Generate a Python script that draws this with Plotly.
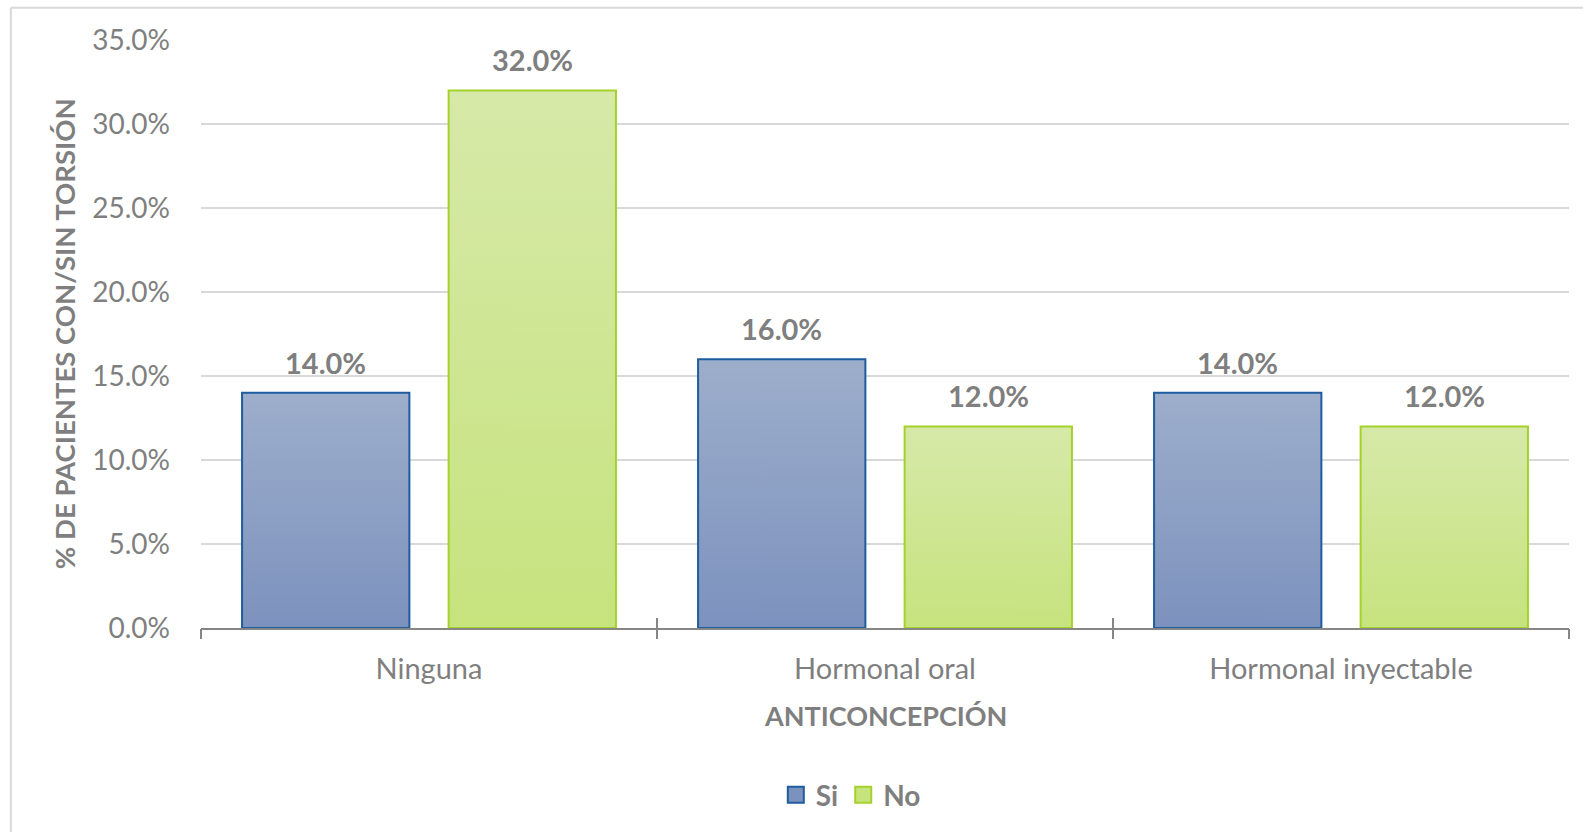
import plotly.graph_objects as go

# Data
categories = ["Ninguna", "Hormonal oral", "Hormonal inyectable"]
series_names = ["Si", "No"]
si_values = [0.14, 0.16, 0.14]
no_values = [0.32, 0.12, 0.12]
y_ticks = [0.0, 0.05, 0.10, 0.15, 0.20, 0.25, 0.30, 0.35]

# Styling
FONT = "Lato"
GRAY_TEXT = "#7F7F7F"
AXIS_GRAY = "#868686"
GRID = "#D9D9D9"
styles = {
    "Si": {"line": "#1F5C9E", "top": "#9DAECB", "bottom": "#7C92BE"},
    "No": {"line": "#A5D12C", "top": "#D6E9A8", "bottom": "#C6E37E"},
}
BARGAP = 0.094
BARGROUPGAP = 0.19

series_values = {"Si": si_values, "No": no_values}
fig = go.Figure()

# Gradient fills for each bar, on a linear x axis aligned with the category axis
n_series = len(series_names)
slot = (1 - BARGAP) / n_series
bar_w = slot * (1 - BARGROUPGAP)
value_labels = []
for j, name in enumerate(series_names):
    st = styles[name]
    for i, v in enumerate(series_values[name]):
        cx = i + (j - (n_series - 1) / 2) * slot
        x0, x1 = cx - bar_w / 2, cx + bar_w / 2
        fig.add_trace(go.Scatter(
            x=[x0, x1, x1, x0, x0], y=[0, 0, v, v, 0],
            mode="lines", line=dict(width=0), fill="toself",
            fillgradient=dict(type="vertical", start=0, stop=v,
                              colorscale=[[0, st["bottom"]], [1, st["top"]]]),
            hoverinfo="skip", showlegend=False, xaxis="x", yaxis="y",
        ))
        # value label above the bar
        value_labels.append(dict(
            text=f"{v:.1%}", xref="x", yref="y", x=cx, y=v,
            xanchor="center", yanchor="bottom", yshift=11, showarrow=False,
            font=dict(family=FONT, size=29, color=GRAY_TEXT, weight="bold"),
        ))

# Bar outlines on the category axis
for name in series_names:
    st = styles[name]
    fig.add_trace(go.Bar(
        x=categories, y=series_values[name], name=name,
        marker=dict(color="rgba(0,0,0,0)", line=dict(color=st["line"], width=2)),
        showlegend=False, hoverinfo="skip", xaxis="x2", yaxis="y",
    ))

# Legend entries
for name in series_names:
    st = styles[name]
    fig.add_trace(go.Scatter(
        x=[None], y=[None], mode="markers", name=name,
        marker=dict(symbol="square", size=16,
                    color=st["bottom"], line=dict(color=st["line"], width=2)),
        xaxis="x", yaxis="y",
    ))

boundaries = [i - 0.5 for i in range(len(categories) + 1)]

fig.update_layout(
    width=1583, height=832,
    margin=dict(l=201, r=14, t=40, b=204),
    paper_bgcolor="white", plot_bgcolor="white",
    barmode="group", bargap=BARGAP, bargroupgap=BARGROUPGAP,
    font=dict(family=FONT, color=GRAY_TEXT),
    xaxis=dict(
        type="linear", range=[-0.5, len(categories) - 0.5],
        showgrid=False, zeroline=False,
        showline=True, linecolor=AXIS_GRAY, linewidth=2,
        tickvals=boundaries, ticks="inside", ticklen=10, tickwidth=2,
        tickcolor=AXIS_GRAY, showticklabels=False,
    ),
    xaxis2=dict(
        type="category", overlaying="x", anchor="y", side="bottom",
        range=[-0.5, len(categories) - 0.5],
        showgrid=False, zeroline=False, showline=False,
        ticks="outside", tickson="boundaries", ticklen=10, tickwidth=2,
        tickcolor=AXIS_GRAY,
        tickfont=dict(family=FONT, size=29, color=GRAY_TEXT),
        ticklabelstandoff=21,
    ),
    yaxis=dict(
        range=[0, 0.35], tickvals=y_ticks, tickformat=".1%",
        showgrid=True, gridcolor=GRID, gridwidth=1.5,
        zeroline=False, showline=False, ticks="",
        tickfont=dict(family=FONT, size=28, color=GRAY_TEXT),
        ticklabelstandoff=30,
    ),
    legend=dict(
        orientation="h", x=0.475, y=-0.284, xanchor="center", yanchor="middle",
        font=dict(family=FONT, size=28, color=GRAY_TEXT, weight="bold"),
        bgcolor="rgba(0,0,0,0)",
    ),
    annotations=value_labels + [
        dict(text="ANTICONCEPCIÓN", xref="paper", yref="paper",
             x=0.5, y=-0.149, xanchor="center", yanchor="middle",
             showarrow=False,
             font=dict(family=FONT, size=27, color=GRAY_TEXT, weight="bold")),
        dict(text="% DE PACIENTES CON/SIN TORSIÓN", xref="paper", yref="paper",
             x=-0.1, y=0.5, xanchor="center", yanchor="middle", textangle=-90,
             showarrow=False,
             font=dict(family=FONT, size=27.5, color=GRAY_TEXT, weight="bold")),
    ],
    shapes=[
        # chart-area frame (top and left edges)
        dict(type="line", xref="paper", yref="paper",
             x0=-0.139, x1=1.02, y0=1.055, y1=1.055,
             line=dict(color=GRID, width=2)),
        dict(type="line", xref="paper", yref="paper",
             x0=-0.139, x1=-0.139, y0=1.055, y1=-0.36,
             line=dict(color=GRID, width=2)),
    ],
)

fig.write_html("out.html")
